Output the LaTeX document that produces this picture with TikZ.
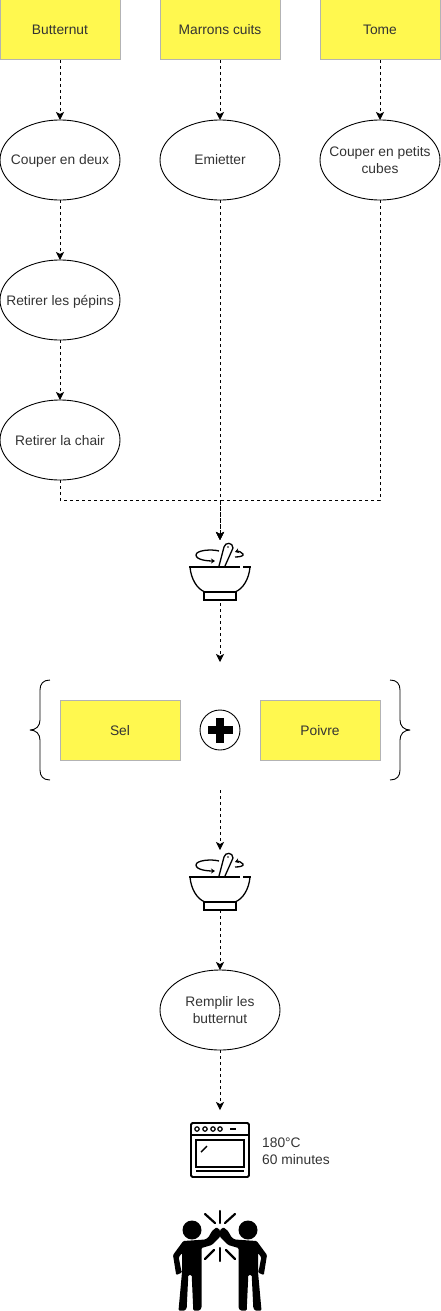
\documentclass[tikz,border=0pt]{standalone}
\usepackage{fontspec}
\setmainfont{Liberation Sans}
\usetikzlibrary{arrows.meta,positioning,calc,shapes.geometric}
\definecolor{inktext}{HTML}{333333}
\definecolor{yellowbox}{HTML}{FFF84F}
\definecolor{yellowline}{HTML}{B3B3B3}
\tikzset{
  flow/.style={-{Stealth[length=8pt,width=8pt,inset=2pt]},line width=0.9pt,dash pattern=on 3pt off 3pt},
  ingredient/.style={draw=yellowline,fill=yellowbox,line width=1pt,minimum width=120pt,minimum height=60pt,inner sep=0pt,outer sep=0pt,text=inktext,text depth=-1pt},
  action/.style={ellipse,draw,line width=0.9pt,minimum width=120pt,minimum height=80pt,inner sep=-20pt,outer sep=0pt,text=inktext,align=center,text depth=0pt},
  iconbox/.style={minimum width=60pt,inner sep=0pt,outer sep=0pt},
  curly/.style={line width=0.9pt,line join=round},
  stirbowl/.pic={
    \draw[line width=1.3pt] (-31,-3) -- (20,-3) (23,-3) -- (31,-3);
    \draw[line width=1.3pt] (-30,-3) .. controls (-29,9) and (-23,19) .. (-15,22) -- (15,22) .. controls (23,19) and (29,9) .. (30,-3);
    \draw[line width=1.3pt] (-16,22) rectangle (16,30);
    \draw[line width=1.3pt] (-1,-4) -- (4,-23) .. controls (5,-28) and (13,-28) .. (13,-22) -- (5,-4);
    \fill (8,-23) circle (0.8pt);
    \draw[line width=1.3pt,-{Stealth[length=4pt,width=5pt]}] (-1,-19) .. controls (-8,-21) and (-24,-20) .. (-24,-15) .. controls (-24,-10) and (-12,-9) .. (-5,-9);
    \draw[line width=1.3pt,-{Stealth[length=4pt,width=5pt]}] (15,-13) .. controls (20,-13) and (24,-14) .. (23,-16) .. controls (22,-18) and (18,-19) .. (15,-18);
  },
  mate/.pic={
    \fill[rounded corners=1pt] (-8,31) -- (-3.5,27.3) -- (0,30) -- (0,37) -- (-8.3,45) -- (-18.5,48) -- (-18.5,108) -- (-20.5,110.5) -- (-26.7,110.5) -- (-28.3,75) -- (-31.7,75) -- (-33.3,108) -- (-35,110.5) -- (-41.5,110.5) -- (-38,72) -- (-38,53) -- (-41.3,57.3) -- (-38.3,72.7) -- (-43.8,75) -- (-47,55) -- (-36.7,41) -- (-15,39.5) -- (-11.7,37.5) -- cycle;
    \fill (-28,30) circle (9.5pt);
    \draw[line width=2.2pt,line cap=round] (-15,14) -- (-5,23) (-15,59) -- (-6,50);
  }
}

\begin{document}
\begin{tikzpicture}[font=\fontsize{13.8}{17.5}\selectfont,>=Latex,x=1pt,y=-1pt]
  \useasboundingbox (0,0) rectangle (441,1311);

  \node[ingredient] (butternut) at (60,30) {Butternut};
  \node[ingredient] (marrons) at (220,30) {Marrons cuits};
  \node[ingredient] (tome) at (380,30) {Tome};

  \node[action] (couper) at (60,160) {Couper en deux};
  \node[action] (emietter) at (220,160) {Emietter};
  \node[action] (cubes) at (380,160) {Couper en petits\\cubes};
  \node[action] (pepins) at (60,300) {Retirer les pépins};
  \node[action] (chair) at (60,440) {Retirer la chair};

  \draw[flow] (butternut) -- (couper);
  \draw[flow] (marrons) -- (emietter);
  \draw[flow] (tome) -- (cubes);
  \draw[flow] (couper) -- (pepins);
  \draw[flow] (pepins) -- (chair);

  \node[iconbox,minimum height=60pt] (stirtop) at (220,570) {};
  \pic at (stirtop.center) {stirbowl};
  \coordinate (merge) at (220,500);
  \draw[flow] (emietter) -- (stirtop.north);
  \draw[flow] (chair.south) |- (merge) -- (stirtop.north);
  \draw[flow] (cubes.south) |- (merge) -- (stirtop.north);
  \coordinate (stirtopend) at (220,603);
  \coordinate (seasonin) at (220,662);
  \draw[flow] (stirtopend) -- (seasonin);

  \node[ingredient] (sel) at (120,730) {Sel};
  \node[ingredient] (poivre) at (320,730) {Poivre};
  \node[circle,draw,line width=0.9pt,minimum size=40pt,inner sep=0pt,outer sep=0pt] (plus) at (220,730) {};
  \fill (207.5,726) rectangle (232.5,734);
  \fill (216,717.5) rectangle (224,742.5);

  \draw[curly] (50,680) .. controls (43,680) and (40,684) .. (40,690) -- (40,720) .. controls (40,726) and (36,730) .. (30,730) .. controls (36,730) and (40,734) .. (40,740) -- (40,770) .. controls (40,776) and (43,780) .. (50,780);
  \draw[curly] (390,680) .. controls (397,680) and (400,684) .. (400,690) -- (400,720) .. controls (400,726) and (404,730) .. (410,730) .. controls (404,730) and (400,734) .. (400,740) -- (400,770) .. controls (400,776) and (397,780) .. (390,780);

  \coordinate (seasonout) at (220,790);
  \node[iconbox,minimum height=60pt] (stirlow) at (220,880) {};
  \pic at (stirlow.center) {stirbowl};
  \draw[flow] (seasonout) -- (stirlow.north);

  \node[action] (remplir) at (220,1010) {Remplir les\\butternut};
  \draw[flow] (stirlow.south) -- (remplir);

  \coordinate (ovenin) at (220,1110);
  \draw[flow] (remplir) -- (ovenin);

  \draw[line width=1.8pt,rounded corners=1.5pt] (191,1123) rectangle (249,1177);
  \draw[line width=1.8pt] (191,1135) -- (249,1135);
  \foreach \x in {197,205,213,220} {
    \draw[line width=1.2pt] (\x,1129) circle (2.2pt);
  }
  \draw[line width=1.6pt] (230,1129) -- (236,1129);
  \draw[line width=1.6pt] (196,1140) rectangle (244,1167);
  \draw[line width=1.2pt] (196,1171) -- (244,1171);
  \draw[line width=1.4pt] (201,1152) -- (207,1146);
  \node[anchor=west,align=left,inner sep=0pt,text=inktext] (oventext) at (262,1151) {180°C\\60 minutes};

  \pic at (220,1200) {mate};
  \pic[xscale=-1] at (220,1200) {mate};
  \draw[line width=2.2pt,line cap=round] (220,1211) -- (220,1223) (220,1248) -- (220,1261);
\end{tikzpicture}
\end{document}
